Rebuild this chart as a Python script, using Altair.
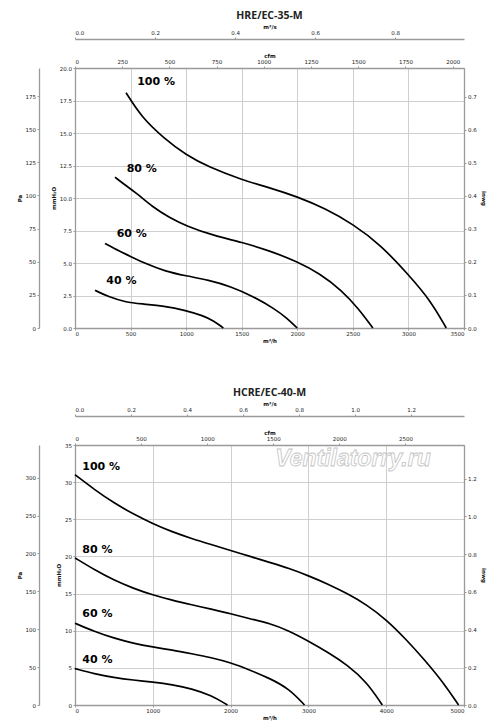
import altair as alt
import pandas as pd

# ---------------- data: HRE/EC-35-M (x: m³/h, y: mmH2O) ----------------
top_q100 = [459, 600, 800, 1000, 1200, 1500, 1750, 2000, 2250, 2500, 2750, 3000, 3200, 3340]
top_p100 = [18.1, 16.2, 14.6, 13.3, 12.4, 11.4, 10.8, 10.1, 9.2, 8.0, 6.4, 4.1, 2.1, 0.0]
top_q80 = [360, 450, 550, 700, 850, 1000, 1250, 1500, 1750, 2000, 2200, 2400, 2550, 2680]
top_p80 = [11.6, 11.0, 10.4, 9.3, 8.5, 7.85, 7.1, 6.6, 5.95, 5.1, 4.2, 2.9, 1.5, 0.0]
top_q60 = [270, 400, 500, 650, 800, 1000, 1200, 1400, 1600, 1800, 1900, 2000]
top_p60 = [6.5, 5.9, 5.5, 4.9, 4.4, 4.0, 3.7, 3.2, 2.45, 1.45, 0.8, 0.0]
top_q40 = [180, 300, 450, 600, 800, 1000, 1150, 1250, 1335]
top_p40 = [2.9, 2.4, 2.0, 1.85, 1.7, 1.35, 0.95, 0.55, 0.0]

top_labels = ["100 %", "80 %", "60 %", "40 %"]
top_label_q = [559, 465, 375, 282]
top_label_p = [18.9, 12.2, 7.2, 3.6]

# ---------------- data: HCRE/EC-40-M ----------------
bot_q100 = [0, 250, 500, 750, 1000, 1250, 1500, 1750, 2000, 2250, 2500, 2750, 3000, 3250, 3500, 3750, 4000, 4250, 4500, 4750, 4930]
bot_p100 = [31.0, 29.0, 27.2, 25.7, 24.4, 23.3, 22.4, 21.6, 20.8, 20.0, 19.2, 18.4, 17.4, 16.3, 15.0, 13.5, 11.5, 8.9, 6.0, 2.8, 0.0]
bot_q80 = [0, 250, 500, 750, 1000, 1250, 1500, 1750, 2000, 2250, 2500, 2750, 3000, 3250, 3500, 3750, 3950]
bot_p80 = [19.8, 18.2, 16.8, 15.7, 14.8, 14.1, 13.5, 12.9, 12.3, 11.6, 11.0, 10.0, 8.6, 7.1, 5.4, 3.1, 0.0]
bot_q60 = [0, 250, 500, 750, 1000, 1250, 1500, 1750, 2000, 2250, 2500, 2750, 2950]
bot_p60 = [11.0, 9.9, 9.0, 8.3, 7.8, 7.4, 6.9, 6.4, 5.7, 4.7, 3.6, 2.2, 0.0]
bot_q40 = [0, 250, 500, 750, 1000, 1250, 1500, 1750, 1960]
bot_p40 = [4.9, 4.2, 3.7, 3.35, 3.1, 2.75, 2.2, 1.3, 0.0]

bot_labels = ["100 %", "80 %", "60 %", "40 %"]
bot_label_q = [94, 94, 94, 94]
bot_label_p = [32.0, 20.85, 12.2, 6.0]

watermark_text = ["Ventilatorry.ru"]
watermark_q = [3573]
watermark_p = [33.1]

PA_PER_MM = 9.80665
INWG_PER_MM = 1 / 25.4
CFM_PER_M3H = 1 / 1.699
M3S_PER_M3H = 1 / 3600

FONT = "DejaVu Sans"
LBL = 5.5


def lines_df(qs, ps, names):
    rows = []
    for q, p, n in zip(qs, ps, names):
        for a, b in zip(q, p):
            rows.append({"q": a, "p": b, "curve": n})
    return pd.DataFrame(rows)


def axis(**kw):
    base = dict(labelFont=FONT, labelFontSize=LBL, labelColor="#222",
                titleFont=FONT, titleFontSize=LBL, titleFontWeight="bold", titleColor="#111",
                domainColor="#9a9a9a", domainWidth=1.3, tickColor="#9a9a9a", tickSize=2,
                labelPadding=1.5, grid=False)
    base.update(kw)
    return alt.Axis(**base)


def panel(title, df, lbl_df, wm_df, xmax, ymax, xvals, yvals, yfmt, cfm_vals, ms_vals, pa_vals, inwg_vals):
    xs = alt.Scale(domain=[0, xmax], nice=False, zero=True)
    ys = alt.Scale(domain=[0, ymax], nice=False, zero=True)

    lines = alt.Chart(df).mark_line(color="black", strokeWidth=1.7, interpolate="basis").encode(
        x=alt.X("q:Q", scale=xs, axis=axis(orient="bottom", values=xvals, format="d", title="m³/h",
                                           grid=True, gridColor="#cfcfcf", gridWidth=1, titlePadding=1)),
        y=alt.Y("p:Q", scale=ys, axis=axis(orient="left", values=yvals, format=yfmt, title="mmH₂O",
                                           grid=True, gridColor="#cfcfcf", gridWidth=1, titlePadding=3)),
        detail="curve:N",
    )

    labels = alt.Chart(lbl_df).mark_text(font=FONT, fontWeight="bold", fontSize=11, align="left",
                                         baseline="middle", color="black").encode(
        x=alt.X("q:Q", scale=xs, axis=None),
        y=alt.Y("p:Q", scale=ys, axis=None),
        text="t:N",
    )

    xm = xmax * CFM_PER_M3H
    cfm_df = pd.DataFrame({"cfm": [0, xm], "p": [0, ymax]})
    cfm = alt.Chart(cfm_df).mark_point(opacity=0).encode(
        x=alt.X("cfm:Q", scale=alt.Scale(domain=[0, xm], nice=False, zero=True),
                axis=axis(orient="top", values=cfm_vals, format="d", title="cfm", titlePadding=1)),
        y=alt.Y("p:Q", scale=ys, axis=None),
    )

    xs3 = xmax * M3S_PER_M3H
    ms_df = pd.DataFrame({"ms": [0, xs3], "p": [0, ymax]})
    ms = alt.Chart(ms_df).mark_point(opacity=0).encode(
        x=alt.X("ms:Q", scale=alt.Scale(domain=[0, xs3], nice=False, zero=True),
                axis=axis(orient="top", values=ms_vals, format=".1f", title="m³/s", offset=29, titlePadding=1)),
        y=alt.Y("p:Q", scale=ys, axis=None),
    )

    pm = ymax * PA_PER_MM
    pa_df = pd.DataFrame({"pa": [0, pm], "q": [0, xmax]})
    pa = alt.Chart(pa_df).mark_point(opacity=0).encode(
        x=alt.X("q:Q", scale=xs, axis=None),
        y=alt.Y("pa:Q", scale=alt.Scale(domain=[0, pm], nice=False, zero=True),
                axis=axis(orient="left", values=pa_vals, format="d", title="Pa", offset=36, titlePadding=3)),
    )

    im = ymax * INWG_PER_MM
    iw_df = pd.DataFrame({"iw": [0, im], "q": [0, xmax]})
    iw = alt.Chart(iw_df).mark_point(opacity=0).encode(
        x=alt.X("q:Q", scale=xs, axis=None),
        y=alt.Y("iw:Q", scale=alt.Scale(domain=[0, im], nice=False, zero=True),
                axis=axis(orient="right", values=inwg_vals, format=".1f", title="inwg",
                          titleAngle=90, titlePadding=4)),
    )

    layers = [lines, labels]
    if wm_df is not None:
        wm = alt.Chart(wm_df).mark_text(font="Liberation Sans", fontStyle="italic", fontWeight="bold",
                                        fontSize=23, fill="white", stroke="#c4c4c4",
                                        strokeWidth=0.8).encode(
            x=alt.X("q:Q", scale=xs, axis=None),
            y=alt.Y("p:Q", scale=ys, axis=None),
            text="t:N",
        )
        layers.append(wm)
    layers += [cfm, ms, pa, iw]

    return alt.layer(*layers).resolve_scale(x="independent", y="independent").properties(
        width=389, height=260,
        title=alt.TitleParams(title, font="Open Sans", fontSize=10.5, fontWeight="bold", color="#222",
                              offset=3, anchor="middle"),
    )


top_df = lines_df([top_q100, top_q80, top_q60, top_q40], [top_p100, top_p80, top_p60, top_p40],
                  ["100", "80", "60", "40"])
top_lbl = pd.DataFrame({"t": top_labels, "q": top_label_q, "p": top_label_p})

bot_df = lines_df([bot_q100, bot_q80, bot_q60, bot_q40], [bot_p100, bot_p80, bot_p60, bot_p40],
                  ["100", "80", "60", "40"])
bot_lbl = pd.DataFrame({"t": bot_labels, "q": bot_label_q, "p": bot_label_p})
wm_df = pd.DataFrame({"t": watermark_text, "q": watermark_q, "p": watermark_p})

top = panel("HRE/EC-35-M", top_df, top_lbl, None, 3500, 20,
            [0, 500, 1000, 1500, 2000, 2500, 3000, 3500],
            [0, 2.5, 5, 7.5, 10, 12.5, 15, 17.5, 20], ".1f",
            [0, 250, 500, 750, 1000, 1250, 1500, 1750, 2000],
            [0, 0.2, 0.4, 0.6, 0.8],
            [0, 25, 50, 75, 100, 125, 150, 175],
            [0, 0.1, 0.2, 0.3, 0.4, 0.5, 0.6, 0.7])

bot = panel("HCRE/EC-40-M", bot_df, bot_lbl, wm_df, 5000, 35,
            [0, 1000, 2000, 3000, 4000, 5000],
            [0, 5, 10, 15, 20, 25, 30, 35], "d",
            [0, 500, 1000, 1500, 2000, 2500],
            [0, 0.2, 0.4, 0.6, 0.8, 1.0, 1.2],
            [0, 50, 100, 150, 200, 250, 300],
            [0, 0.2, 0.4, 0.6, 0.8, 1.0, 1.2])

chart = alt.vconcat(top, bot, spacing=43).properties(
    padding={"left": 8, "top": 2, "right": 5, "bottom": 5}
).configure_view(stroke=None).configure(background="white")

chart.save("out.html", embed_options={"renderer": "svg", "actions": False})
